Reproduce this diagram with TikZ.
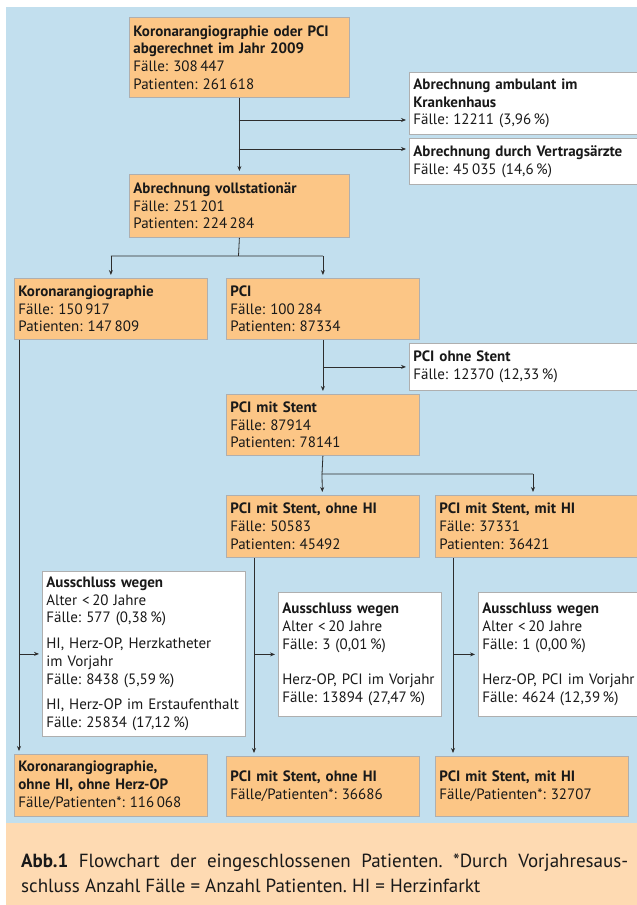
\documentclass[tikz,border=0pt]{standalone}
\usepackage{fontspec}
\setmainfont{PT Sans}
\usepackage{tikz}
\usetikzlibrary{arrows.meta}
\frenchspacing

\definecolor{hgblau}{RGB}{194,223,238}
\definecolor{kastenorange}{RGB}{252,198,134}
\definecolor{legendepeach}{RGB}{254,218,178}
\definecolor{rahmen}{RGB}{175,175,175}
\definecolor{linie}{RGB}{45,45,45}

\tikzset{
  mainbox/.style={draw=rahmen, line width=0.8pt, fill=kastenorange, anchor=north west,
    align=left, inner xsep=4pt, inner ysep=3pt, text=black!90,
    font=\fontsize{15}{17.7}\selectfont},
  sidebox/.style={mainbox, fill=white},
}

\begin{document}
\begin{tikzpicture}[x=1pt,y=-1pt]
		\useasboundingbox (0,0) rectangle (637,905);
		\clip (0,0) rectangle (637,905);
		% background
		\fill[hgblau] (6,7) rectangle (637,823);
		\fill[legendepeach] (6,823) rectangle (637,905);
		%
		\node[mainbox,text width=212pt,minimum height=80pt] (A) at (129,17)
			{\textbf{Koronarangiographie oder PCI}\\\textbf{abgerechnet im Jahr 2009}\\Fälle: 308\,447\\Patienten: 261\,618};
		\node[sidebox,text width=224pt,minimum height=62pt] (B) at (409,72)
			{\textbf{Abrechnung ambulant im}\\\textbf{Krankenhaus}\\Fälle: 12211 (3,96\,\%)};
		\node[sidebox,text width=224pt,minimum height=46pt] (B') at (409,138)
			{\textbf{Abrechnung durch Vertragsärzte}\\Fälle: 45\,035 (14,6\,\%)};
		\node[mainbox,text width=212pt,minimum height=63pt] (C) at (129,174)
			{\textbf{Abrechnung vollstationär}\\Fälle: 251\,201\\Patienten: 224\,284};
		\node[mainbox,text width=185pt,minimum height=61pt] (D) at (14,278)
			{\textbf{Koronarangiographie}\\Fälle: 150\,917\\Patienten: 147\,809};
		\node[mainbox,text width=185pt,minimum height=61pt] (E) at (226,278)
			{\textbf{PCI}\\Fälle: 100\,284\\Patienten: 87334};
		\node[sidebox,text width=224pt,minimum height=47pt] (E') at (409,343)
			{\textbf{PCI ohne Stent}\\Fälle: 12370 (12,33\,\%)};
		\node[mainbox,text width=185pt,minimum height=61pt] (F) at (226,394)
			{\textbf{PCI mit Stent}\\Fälle: 87914\\Patienten: 78141};
		\node[mainbox,text width=185pt,minimum height=62pt] (G) at (226,495)
			{\textbf{PCI mit Stent, ohne HI}\\Fälle: 50583\\Patienten: 45492};
		\node[mainbox,text width=198pt,minimum height=62pt] (H) at (435,495)
			{\textbf{PCI mit Stent, mit HI}\\Fälle: 37331\\Patienten: 36421};
		%
		\node[sidebox,text width=195pt,minimum height=165pt] (X1) at (42,571)
			{\textbf{Ausschluss wegen}\\Alter <\,20 Jahre\\Fälle: 577 (0,38\,\%)\\[8pt]HI, Herz-OP, Herzkatheter\\im Vorjahr\\Fälle: 8438 (5,59\,\%)\\[8pt]HI, Herz-OP im Erstaufenthalt\\Fälle: 25834 (17,12\,\%)};
		\node[sidebox,text width=155pt,minimum height=124pt] (X2) at (278,592)
			{\textbf{Ausschluss wegen}\\Alter <\,20 Jahre\\Fälle: 3 (0,01\,\%)\\[17.7pt]Herz-OP, PCI im Vorjahr\\Fälle: 13894 (27,47\,\%)};
		\node[sidebox,text width=155pt,minimum height=124pt] (X3) at (478,592)
			{\textbf{Ausschluss wegen}\\Alter <\,20 Jahre\\Fälle: 1 (0,00\,\%)\\[17.7pt]Herz-OP, PCI im Vorjahr\\Fälle: 4624 (12,39\,\%)};
		%
		\node[mainbox,text width=185pt,minimum height=62pt] (D'') at (14,754)
			{\textbf{Koronarangiographie,}\\\textbf{ohne HI, ohne Herz-OP}\\Fälle/Patienten*: 116\,068};
		\node[mainbox,text width=185pt,minimum height=60pt] (G'') at (226,756)
			{\textbf{PCI mit Stent, ohne HI}\\Fälle/Patienten*: 36686};
		\node[mainbox,text width=185pt,minimum height=60pt] (H'') at (435,756)
			{\textbf{PCI mit Stent, mit HI}\\Fälle/Patienten*: 32707};
		%
		\node[anchor=north west,inner sep=0pt,text width=607pt,align=justify,text=black!90,
			font=\fontsize{19}{25}\selectfont] (cap) at (21,854)
			{\textbf{Abb.1} Flowchart der eingeschlossenen Patienten. *Durch Vorjahresaus-\linebreak schluss Anzahl Fälle = Anzahl Patienten. HI = Herzinfarkt};
		%
		\coordinate (a1) at (238.5,120);
		\coordinate (a2) at (238.5,149);
		\coordinate (c1) at (238.5,256);
		\coordinate (e1) at (E.south |- E'.west);
		\coordinate (f1) at (322,474);
		\coordinate (h1) at (533,474);
		\coordinate (d1) at ([xshift=5pt]D.south west);
		\coordinate (g1) at ([xshift=28pt]G.south west);
		\coordinate (h2) at ([xshift=18pt]H.south west);
		%
		\begin{scope}[color=linie,line width=0.8pt]
		\draw (C.south) -- (c1) (D |- c1) -- (E |- c1);
		\draw (F.south) -- (f1) -- (h1);
		\path[->,>={Stealth[length=5pt,width=4pt]},shorten >=3pt]
		% horizontal arrows
		(a1) edge (a1 -| B.west)
		(a2) edge (a2 -| B'.west)
		(e1) edge (E'.west)
		(d1 |- X1.west) edge (X1.west)
		(g1 |- X2.west) edge (X2.west)
		(h2 |- X3.west) edge (X3.west)
		% vertical arrows
		(A) edge (C)
		(D |- c1) edge (D)
		(E |- c1) edge (E)
		(E) edge (F)
		(f1) edge (G)
		(h1) edge (h1 |- H.north)
		(d1) edge (d1 |- D''.north)
		(g1) edge (g1 |- G''.north)
		(h2) edge (h2 |- H''.north);
		\end{scope}
	\end{tikzpicture}
\end{document}
